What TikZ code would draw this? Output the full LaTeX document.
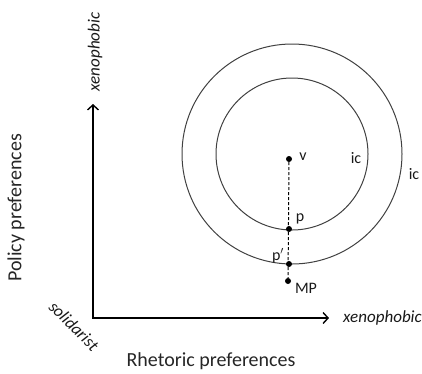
\documentclass[tikz,border=0pt]{standalone}
\usepackage{fontspec}
\setmainfont{Carlito}
\usetikzlibrary{arrows.meta}
\begin{document}
\begin{tikzpicture}[x=1pt,y=-1pt,
  axis/.style={line width=1.4pt,{Straight Barb[length=5pt,width=11pt,line width=1.4pt]}-{Straight Barb[length=5pt,width=11pt,line width=1.4pt]}},
  curve/.style={line width=1pt,draw=black!75},
  dot/.style={circle,fill=black,inner sep=0pt,minimum size=6pt},
  lbl/.style={font=\fontsize{16}{16}\selectfont,text=black!90,inner sep=0pt},
  axlbl/.style={font=\fontsize{17}{17}\selectfont\itshape,text=black!90,inner sep=0pt},
  title/.style={font=\fontsize{20}{20}\selectfont,text=black!85,inner sep=0pt}]
\useasboundingbox (0,0) rectangle (422,373);
\coordinate (O) at (93,318);
\coordinate (ytop) at (93,104);
\coordinate (xend) at (329,318);
\coordinate (C) at (292,154);
\draw[axis] (ytop) -- (O) -- (xend);
\draw[curve] (C) circle[radius=76];
\draw[curve] (C) circle[radius=110];
\node[dot] (v) at (289,159) {};
\node[dot] (p) at (289,229) {};
\node[dot] (pp) at (289,264) {};
\node[dot] (mp) at (288,281) {};
\draw[line width=1pt,dash pattern=on 3pt off 2pt] (v) -- (mp);
\node[lbl] (vl) at (303,157) {v};
\node[lbl] (ic1) at (356,158) {ic};
\node[lbl] (ic2) at (414,174) {ic};
\node[lbl] (pl) at (300,219) {p};
\node[lbl] (ppl) at (278,256) {p$'$};
\node[lbl] (mpl) at (306,288) {MP};
\node[axlbl,rotate=90] (yx) at (95,52) {xenophobic};
\node[axlbl,anchor=west] (xx) at (343,318) {xenophobic};
\node[axlbl,rotate=-45] (sol) at (74,326) {solidarist};
\node[title,rotate=90] (pol) at (16,208) {Policy preferences};
\node[title] (rh) at (211,361) {Rhetoric preferences};
\end{tikzpicture}
\end{document}
